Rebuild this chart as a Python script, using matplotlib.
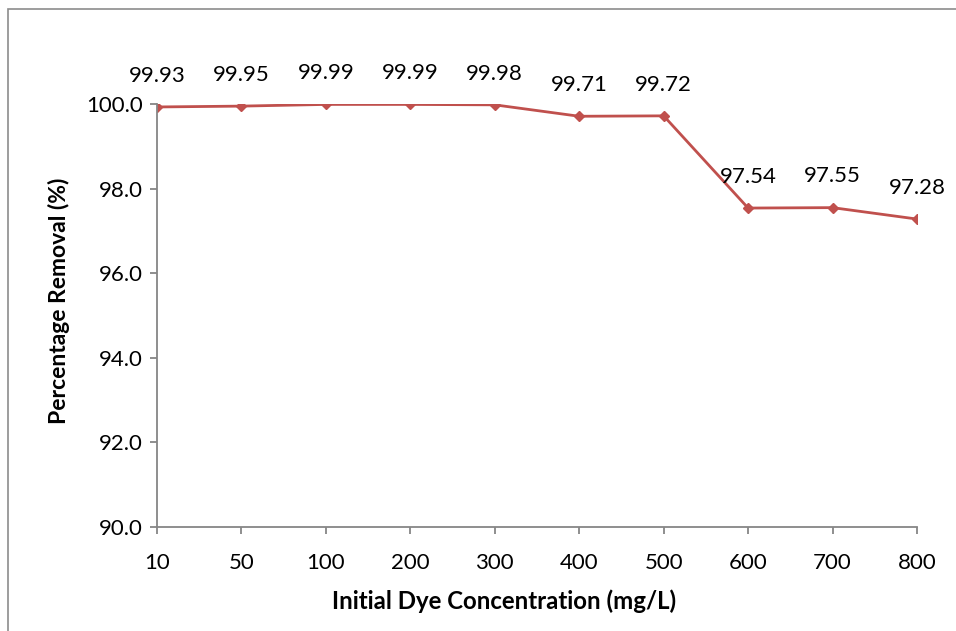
import matplotlib
matplotlib.use("Agg")
import matplotlib.pyplot as plt
from matplotlib.patches import Rectangle

# Data
concentrations = ["10", "50", "100", "200", "300", "400", "500", "600", "700", "800"]
removal = [99.93, 99.95, 99.99, 99.99, 99.98, 99.71, 99.72, 97.54, 97.55, 97.28]
y_ticks = [90.0, 92.0, 94.0, 96.0, 98.0, 100.0]

plt.rcParams['font.family'] = ['Lato', 'DejaVu Sans']

fig = plt.figure(figsize=(9.56, 6.31), dpi=100)

# Outer chart frame (Excel-style)
fig.patches.append(Rectangle((8 / 956, -0.1), 1.2, 1 - 8.5 / 631 + 0.1,
                             transform=fig.transFigure, fill=False,
                             edgecolor="#8c8c8c", linewidth=1.2))

ax = fig.add_axes([157 / 956, 104 / 631, (917 - 157) / 956, (527 - 104) / 631])

x = list(range(len(concentrations)))
ax.plot(x, removal, color="#C0504D", linewidth=2.0, marker="D",
        markersize=5.5, markerfacecolor="#C0504D", markeredgecolor="#C0504D")

for xi, yi in zip(x, removal):
    ax.annotate(f"{yi:.2f}", (xi, yi), xytext=(0, 22.5), textcoords="offset points",
                ha="center", va="center", fontsize=16, color="black")

ax.set_xlim(0, len(concentrations) - 1)
ax.set_ylim(90, 100)
ax.set_xticks(x)
ax.set_xticklabels(concentrations)
ax.set_yticks(y_ticks)
ax.set_yticklabels([f"{t:.1f}" for t in y_ticks])

for side in ["top", "right"]:
    ax.spines[side].set_visible(False)
for side in ["left", "bottom"]:
    ax.spines[side].set_color("#868686")
    ax.spines[side].set_linewidth(1.3)

ax.tick_params(axis="both", direction="out", length=5, width=1.3, color="#868686",
               labelsize=16, labelcolor="black")
ax.tick_params(axis="x", pad=14)
ax.tick_params(axis="y", pad=5)

# Excel places the axis titles off-centre from the plot area
ax.set_xlabel("Initial Dye Concentration (mg/L)", fontsize=17.3, fontweight="bold")
ax.xaxis.set_label_coords(0.4566, -0.148)
ax.set_ylabel("Percentage Removal (%)", fontsize=16.5, fontweight="bold")
ax.yaxis.set_label_coords(-0.1145, 0.535)

fig.savefig("out.png", dpi=100)
